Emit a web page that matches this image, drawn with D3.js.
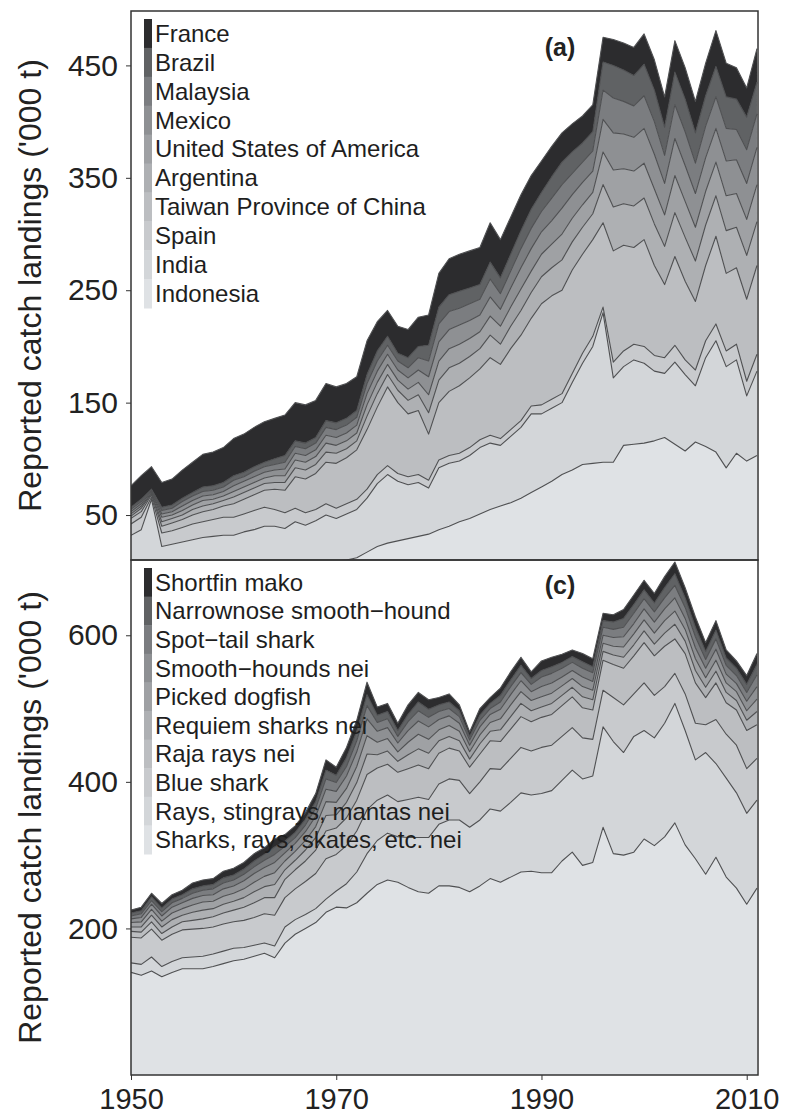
<!DOCTYPE html>
<html>
<head>
<meta charset="utf-8">
<script src="https://cdn.jsdelivr.net/npm/d3@7"></script>
<style>
  body { margin: 0; background: #fff; }
  text { font-family: "Liberation Sans", Arial, Helvetica, sans-serif; }
</style>
</head>
<body>
<svg id="chart" width="788" height="1115"></svg>
<script>
// ---------------- data: reported catch landings ('000 t), 1950–2011 ----------------
const years = d3.range(1950, 2012);

// Panel (a): top ten countries (bottom of stack first)
const indonesia = [2,2,2,2,3,3,3,3,3,4, 4,4,5,5,5,5,6,6,7,8, 9,10,12,17,22,25,27,29,31,33, 37,40,44,47,51,55,58,61,65,70, 75,80,86,90,95,96,97,97,112,113, 114,116,119,113,107,115,111,106,92,105,98,103];
const india     = [30,35,62,20,21,23,25,27,28,28, 28,31,32,35,35,33,38,35,38,42, 38,41,43,48,56,61,53,48,48,41, 55,56,54,56,59,59,54,59,63,70, 65,65,64,78,90,104,133,75,70,75, 71,62,57,73,68,50,79,99,90,83,58,75];
const spain     = [10,11,2,12,12,13,14,14,15,16, 16,16,17,17,15,14,12,11,10,10, 9,9,9,8,8,8,7,7,7,7, 7,7,7,7,7,7,6,6,6,7, 8,8,8,8,9,9,5,14,14,14, 15,14,14,15,13,14,15,15,14,14,13,15];
const taiwan    = [5,5,2,6,7,7,8,9,9,10, 12,13,14,15,18,20,28,30,32,37, 40,41,44,53,60,70,63,56,57,41, 51,57,60,62,63,69,66,72,76,78, 90,92,92,92,88,86,75,99,94,86, 95,80,65,79,70,61,67,78,69,68,73,79];
const argentina = [2,3,1,4,4,4,5,5,5,5, 6,6,6,6,6,7,8,8,8,9, 9,8,8,12,12,11,11,12,14,19, 20,21,20,19,18,20,18,20,22,23, 24,25,27,25,24,23,34,39,37,37, 37,37,34,39,39,36,36,36,38,36,39,39];
const usa       = [2,2,1,4,3,4,4,5,4,4, 5,5,5,5,6,6,7,7,7,8, 7,7,7,10,10,9,9,10,11,16, 17,17,17,16,15,17,16,17,19,19, 20,21,23,21,20,19,29,33,31,31, 31,31,28,33,32,30,30,30,31,30,32,33];
const mexico    = [2,2,1,3,3,4,4,4,4,4, 5,5,5,5,5,6,6,6,6,7, 7,7,7,10,10,9,9,10,11,16, 17,17,17,16,15,17,15,17,19,20, 20,21,23,21,20,19,29,33,31,30, 31,31,28,33,32,30,30,30,31,30,32,33];
const malaysia  = [2,2,1,3,3,4,4,4,4,4, 5,4,5,5,5,6,6,6,6,7, 7,7,7,9,9,8,8,9,11,14, 16,16,15,15,14,16,14,15,17,18, 18,20,21,19,18,18,26,31,29,28, 29,29,25,30,30,27,28,28,29,27,30,30];
const brazil    = [2,2,1,3,3,3,3,4,4,4, 4,4,4,4,5,6,5,5,5,6, 6,6,6,8,9,8,7,9,10,14, 15,15,15,14,13,15,14,15,16,17, 17,19,20,19,17,17,25,29,28,27, 28,28,25,29,29,27,27,27,28,27,29,28];
const france    = [19,21,20,22,23,25,27,29,30,31, 33,34,35,36,36,36,34,34,33,33, 32,31,30,30,26,23,24,25,26,27, 30,32,33,33,33,35,34,33,32,30, 28,27,26,25,24,24,22,23,24,25, 27,27,27,28,28,28,29,32,30,28,26,30];

const countryNames = ["Indonesia", "India", "Spain", "Taiwan Province of China", "Argentina",
  "United States of America", "Mexico", "Malaysia", "Brazil", "France"];
const countrySeries = [indonesia, india, spain, taiwan, argentina, usa, mexico, malaysia, brazil, france];

// Panel (c): top ten species items (bottom of stack first)
const sharksNei  = [140,136,142,134,140,145,145,145,148,152, 156,158,162,166,160,180,192,200,208,222, 229,228,235,248,260,266,263,256,250,248, 258,258,256,250,258,268,263,270,277,278, 276,276,292,304,286,290,338,302,300,304, 322,313,325,344,314,295,274,297,270,255,233,255];
const raysNei    = [13,15,19,14,15,15,16,17,17,17, 17,16,15,14,16,22,20,19,19,18, 22,33,42,54,60,64,62,68,74,76, 84,90,92,88,90,95,97,102,108,104, 108,112,110,112,118,118,137,153,140,158, 148,147,155,163,156,135,166,128,135,130,124,120];
const blueShark  = [35,36,38,36,37,38,38,38,37,37, 36,37,38,40,42,40,42,45,48,55, 50,52,56,60,55,52,48,52,55,52, 55,56,54,46,52,55,57,60,62,60, 63,62,60,58,56,50,50,60,65,58, 65,58,50,41,50,50,38,60,60,65,61,57];
const rajaRays   = [8,8,10,9,10,11,12,13,14,15, 16,18,20,22,24,25,26,28,32,38, 36,38,42,48,44,42,40,42,44,42, 42,42,40,36,38,38,38,40,42,40, 41,42,42,42,41,40,41,45,50,52, 55,54,55,47,55,55,37,50,43,48,52,46];
const requiem    = [6,7,9,9,10,9,11,12,11,12, 12,13,15,15,18,13,13,15,17,21, 18,21,24,28,18,18,15,19,22,21, 17,16,14,11,14,13,16,17,18,15, 14,15,14,13,15,14,12,13,15,15, 16,16,18,20,17,17,14,16,14,13,14,18];
const picked     = [6,7,8,8,9,9,10,11,10,11, 11,12,13,14,16,12,12,13,15,19, 17,19,22,25,17,17,13,17,20,19, 15,15,13,10,12,12,15,16,16,14, 14,14,13,12,14,13,11,12,14,15, 15,15,17,18,16,16,13,15,13,12,13,17];
const smoothNei  = [5,6,7,7,8,8,9,9,9,10, 10,11,12,12,14,11,11,12,14,17, 15,17,20,23,15,15,12,16,18,17, 14,13,11,9,11,11,13,14,15,12, 14,14,12,11,13,12,11,12,14,14, 15,15,16,18,15,15,13,15,12,11,13,17];
const spotTail   = [4,5,5,6,6,6,7,7,8,8, 8,9,9,10,11,9,8,9,11,14, 12,13,15,18,12,12,9,12,14,13, 11,10,9,7,9,8,10,11,11,10, 13,13,12,11,12,12,11,11,13,14, 14,14,15,17,15,15,12,14,12,11,12,16];
const narrownose = [4,4,5,5,5,5,6,6,6,7, 7,7,8,8,10,7,7,8,9,12, 10,12,13,15,10,10,8,10,12,11, 9,9,8,5,7,7,9,9,10,8, 9,9,8,8,9,8,9,10,12,12, 12,12,14,16,13,13,11,12,10,10,11,14];
const mako       = [4,5,5,6,6,6,8,8,8,9, 9,9,10,9,11,9,9,9,11,14, 11,14,15,17,11,11,10,13,13,13, 10,11,8,6,9,8,10,11,11,9, 13,13,11,9,11,11,10,10,12,13, 13,13,15,16,14,14,12,13,11,10,12,15];

const speciesNames = ["Sharks, rays, skates, etc. nei", "Rays, stingrays, mantas nei", "Blue shark",
  "Raja rays nei", "Requiem sharks nei", "Picked dogfish", "Smooth\u2212hounds nei",
  "Spot\u2212tail shark", "Narrownose smooth\u2212hound", "Shortfin mako"];
const speciesSeries = [sharksNei, raysNei, blueShark, rajaRays, requiem, picked, smoothNei, spotTail, narrownose, mako];

// Axis tick values
const ticksA = [50, 150, 250, 350, 450];
const ticksC = [200, 400, 600];
const ticksYear = [1950, 1970, 1990, 2010];

// ---------------- layout ----------------
const fills = ["#dfe2e5", "#d3d6d9", "#c8cacd", "#bcbec1", "#aeb0b3",
               "#9fa1a4", "#8e9093", "#7b7d80", "#606264", "#2c2c2e"];
const plotLeft = 131, plotRight = 758;
const svg = d3.select("#chart");

const x = d3.scaleLinear().domain([1950, 2011.1]).range([plotLeft, plotRight]);

function drawPanel(cfg) {
  const { top, bottom, domain, ticks, names, series, label, labelY, legendTop, legendStep, id } = cfg;
  const y = d3.scaleLinear().domain(domain).range([bottom, top]);

  const rows = years.map((yr, i) => {
    const r = { year: yr };
    series.forEach((s, k) => { r[k] = s[i]; });
    return r;
  });
  const stacked = d3.stack().keys(d3.range(series.length))(rows);

  svg.append("clipPath").attr("id", id)
    .append("rect").attr("x", plotLeft).attr("y", top)
    .attr("width", plotRight - plotLeft).attr("height", bottom - top);

  const g = svg.append("g").attr("clip-path", `url(#${id})`);
  const area = d3.area()
    .x(d => x(d.data.year)).y0(d => y(d[0])).y1(d => y(d[1]));
  const line = d3.line()
    .x(d => x(d.data.year)).y(d => y(d[1]));

  g.selectAll("path.layer").data(stacked).join("path")
    .attr("class", "layer")
    .attr("fill", (d, i) => fills[i])
    .attr("d", area);
  g.selectAll("path.edge").data(stacked).join("path")
    .attr("class", "edge")
    .attr("fill", "none")
    .attr("stroke", "#4f5052")
    .attr("stroke-width", 1.1)
    .attr("stroke-linejoin", "round")
    .attr("d", line);

  // frame
  svg.append("rect").attr("x", plotLeft).attr("y", top)
    .attr("width", plotRight - plotLeft).attr("height", bottom - top)
    .attr("fill", "none").attr("stroke", "#333").attr("stroke-width", 1.5);

  // y axis
  const ax = svg.append("g").attr("transform", `translate(${plotLeft},0)`)
    .call(d3.axisLeft(y).tickValues(ticks).tickSize(5).tickPadding(8));
  ax.select(".domain").remove();
  ax.selectAll("line").attr("stroke", "#333");
  ax.selectAll("text").attr("font-size", 30).attr("fill", "#222")
    .style("font-family", "'Liberation Sans', Arial, sans-serif");

  // y title
  svg.append("text")
    .attr("transform", `translate(41,${(top + bottom) / 2}) rotate(-90)`)
    .attr("text-anchor", "middle")
    .attr("font-size", 32).attr("fill", "#222")
    .text("Reported catch landings ('000 t)");

  // panel label
  svg.append("text").attr("x", 560).attr("y", labelY)
    .attr("text-anchor", "middle").attr("font-size", 25).attr("font-weight", "bold")
    .attr("fill", "#222").text(label);

  // legend: a key strip with one shade per item, darkest on top
  const legend = svg.append("g");
  const order = d3.range(names.length).reverse();
  order.forEach((k, j) => {
    const y0 = legendTop + j * legendStep;
    legend.append("rect").attr("x", 144).attr("y", y0)
      .attr("width", 8).attr("height", legendStep + 0.5).attr("fill", fills[k]);
    legend.append("text").attr("x", 155).attr("y", y0 + legendStep / 2)
      .attr("dy", "0.35em").attr("font-size", 24).attr("fill", "#1e1e1e")
      .text(names[k]);
  });
  return y;
}

drawPanel({ id: "clipA", top: 11, bottom: 560, domain: [10, 498.4], ticks: ticksA,
  names: countryNames, series: countrySeries, label: "(a)", labelY: 56,
  legendTop: 19, legendStep: 28.9 });

drawPanel({ id: "clipC", top: 560, bottom: 1075, domain: [0, 702.7], ticks: ticksC,
  names: speciesNames, series: speciesSeries, label: "(c)", labelY: 594,
  legendTop: 568, legendStep: 28.6 });

// x axis
const xa = svg.append("g").attr("transform", "translate(0,1075)")
  .call(d3.axisBottom(x).tickValues(ticksYear).tickFormat(d3.format("d")).tickSize(5).tickPadding(8));
xa.select(".domain").remove();
xa.selectAll("line").attr("stroke", "#333");
xa.selectAll("text").attr("font-size", 29).attr("fill", "#222")
  .style("font-family", "'Liberation Sans', Arial, sans-serif");
</script>
</body>
</html>
